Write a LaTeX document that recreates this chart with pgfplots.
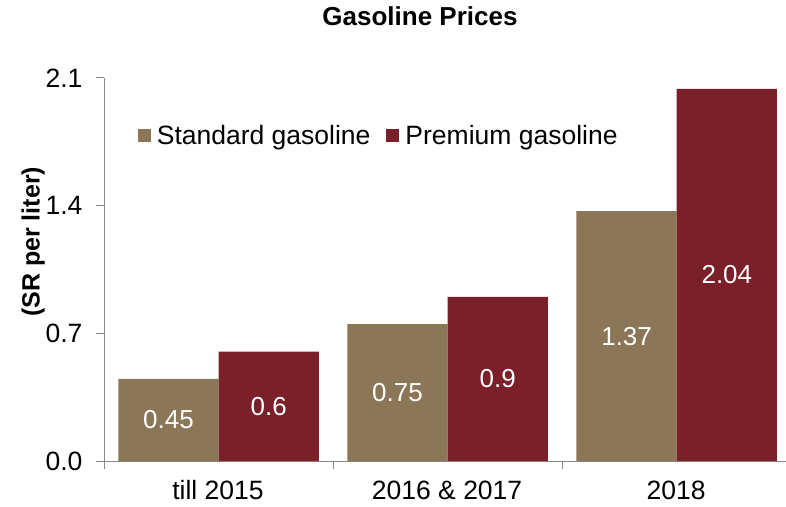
\documentclass[border=0pt]{standalone}
\usepackage{pgfplots}
\pgfplotsset{compat=1.18}
\usepackage{fontspec}
\setmainfont{Liberation Sans}
\definecolor{stdc}{RGB}{139,119,87}
\definecolor{premc}{RGB}{123,32,41}
\definecolor{axc}{RGB}{136,136,136}
\begin{document}
\begin{tikzpicture}
\useasboundingbox (-104bp,-46bp) rectangle (682bp,461bp);
\begin{axis}[
  at={(0,0)}, anchor=south west,
  scale only axis,
  width=682bp, height=383bp,
  ybar=0pt, bar width=0.4376,
  xmin=-0.5, xmax=2.477,
  ymin=0, ymax=2.1,
  axis x line=bottom, axis y line=left,
  axis line style={-, draw=axc, line width=1pt},
  tick align=outside,
  major tick length=8bp,
  tick style={draw=axc, line width=1pt},
  xtick={-0.5,0.5,1.5},
  xticklabels={till 2015, 2016 \& 2017, 2018},
  xticklabel style={xshift=114bp, yshift=-8bp},
  ytick={0,0.7,1.4,2.1},
  yticklabel style={/pgf/number format/.cd, fixed, fixed zerofill, precision=1, /tikz/.cd, xshift=-10bp},
  /pgf/number format/assume math mode=true,
  tick label style={font=\fontsize{26.5bp}{31bp}\selectfont},
  title={Gasoline Prices},
  title style={at={(axis description cs:0.4633,1)}, anchor=base, yshift=47bp, font=\bfseries\fontsize{26bp}{31bp}\selectfont},
  ylabel={(SR per liter)},
  ylabel style={at={(axis description cs:-0.104,0.572)}, anchor=center, font=\bfseries\fontsize{25bp}{30bp}\selectfont},
  legend style={at={(axis description cs:0.045,0.85)}, anchor=west, draw=none, fill=none,
    legend columns=2, font=\fontsize{26.5bp}{31bp}\selectfont,
    /tikz/every even column/.append style={column sep=14bp}},
  legend image code/.code={\fill[#1] (0bp,-6.5bp) rectangle (13bp,6.5bp); \path (17bp,0) -- (17bp,0);},
  visualization depends on=rawy\as\rawy,
  nodes near coords,
  nodes near coords style={/pgf/number format/.cd, fixed, precision=2, /tikz/.cd},
  every node near coord/.append style={anchor=center, text=white, font=\fontsize{26bp}{31bp}\selectfont,
    shift={(axis direction cs:0,-\rawy/2)}},
]
\addplot[fill=stdc, draw=none] coordinates {(0,0.45) (1,0.75) (2,1.37)};
\addplot[fill=premc, draw=none] coordinates {(0,0.6) (1,0.9) (2,2.04)};
\legend{Standard gasoline, Premium gasoline}
\end{axis}
\end{tikzpicture}
\end{document}
